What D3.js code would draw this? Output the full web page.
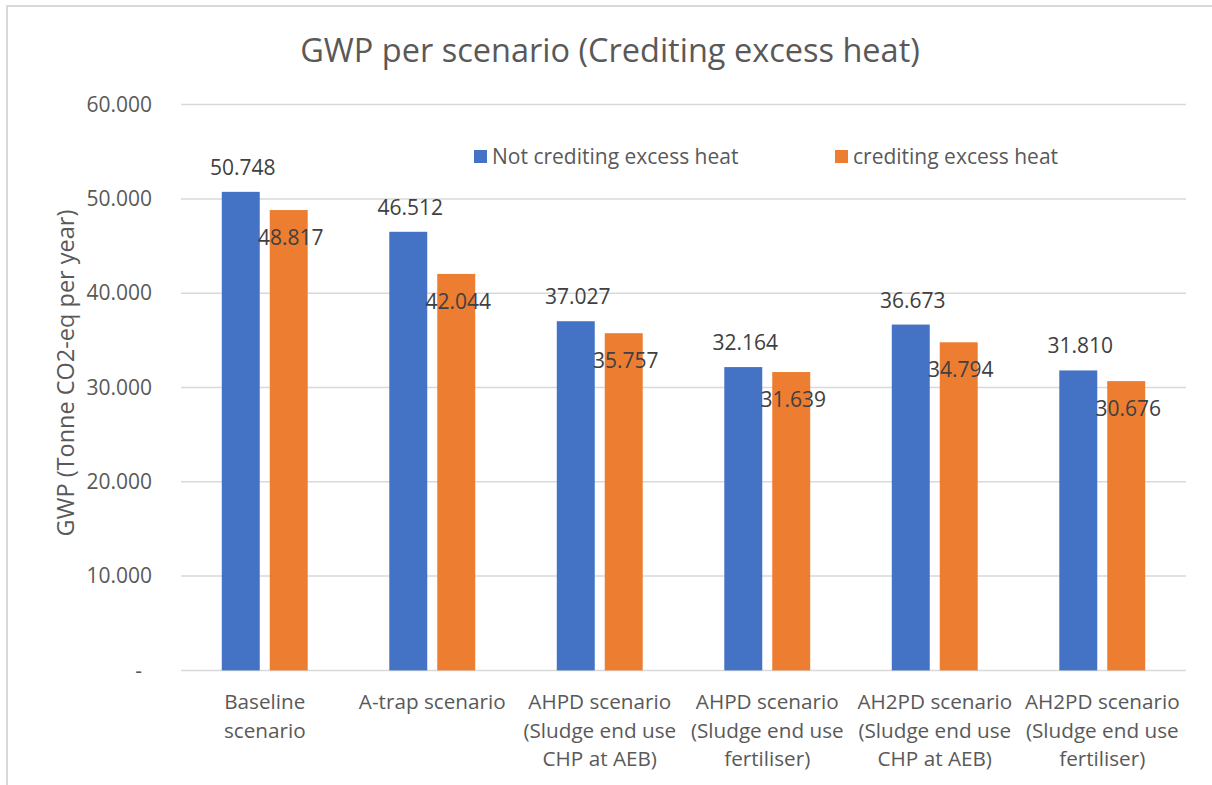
<!DOCTYPE html>
<html>
<head>
<meta charset="utf-8">
<script src="https://cdn.jsdelivr.net/npm/d3@7"></script>
<style>
  html, body { margin: 0; padding: 0; background: #fff; }
  svg { display: block; }
  text { font-family: "Open Sans", "Noto Sans", sans-serif; }
</style>
</head>
<body>
<svg id="chart" width="1212" height="785"></svg>
<script>
// Scenario categories (x axis)
const categories = [
  "Baseline scenario",
  "A-trap scenario",
  "AHPD scenario (Sludge end use CHP at AEB)",
  "AHPD scenario (Sludge end use fertiliser)",
  "AH2PD scenario (Sludge end use CHP at AEB)",
  "AH2PD scenario (Sludge end use fertiliser)"
];
// Series names
const seriesNames = ["Not crediting excess heat", "crediting excess heat"];
// GWP values, tonne CO2-eq per year
const notCrediting = [50.748, 46.512, 37.027, 32.164, 36.673, 31.810];
const crediting    = [48.817, 42.044, 35.757, 31.639, 34.794, 30.676];
// Y axis ticks and their labels
const yTicks = [0, 10, 20, 30, 40, 50, 60];
const yTickLabels = ["-", "10.000", "20.000", "30.000", "40.000", "50.000", "60.000"];

const colors = ["#4472C4", "#ED7D31"];
const seriesValues = [notCrediting, crediting];

const svg = d3.select("#chart");

// Outer chart frame (top and left edges visible)
svg.append("path")
  .attr("d", "M7,790 L7,6 L1220,6")
  .attr("fill", "none")
  .attr("stroke", "#d9d9d9")
  .attr("stroke-width", 2);

const plot = { left: 181, right: 1186, top: 104.6, bottom: 670.4 };

const y = d3.scaleLinear().domain([0, 60]).range([plot.bottom, plot.top]);
const x0 = d3.scaleBand().domain(categories)
  .range([plot.left, plot.right])
  .paddingInner(0.487).paddingOuter(0.2435);
const x1 = d3.scaleBand().domain(seriesNames)
  .range([0, x0.bandwidth()])
  .paddingInner(0.2083).paddingOuter(0);

// Title
svg.append("text")
  .attr("x", 610).attr("y", 62)
  .attr("text-anchor", "middle")
  .attr("font-size", 32.5)
  .attr("fill", "#595959")
  .text("GWP per scenario (Crediting excess heat)");

// Gridlines
svg.append("g")
  .selectAll("line")
  .data(yTicks)
  .join("line")
  .attr("x1", plot.left).attr("x2", plot.right)
  .attr("y1", d => y(d)).attr("y2", d => y(d))
  .attr("stroke", "#d9d9d9")
  .attr("stroke-width", 1.5);

// Y axis tick labels
const yAxis = d3.axisLeft(y)
  .tickValues(yTicks)
  .tickSize(0)
  .tickPadding(0)
  .tickFormat((d, i) => yTickLabels[i]);
const yG = svg.append("g")
  .attr("transform", `translate(152,0)`)
  .call(yAxis);
yG.select(".domain").remove();
yG.selectAll("text")
  .attr("font-family", "'Open Sans', sans-serif")
  .attr("font-size", 21)
  .attr("fill", "#595959")
  .attr("dx", (d, i) => yTickLabels[i] === "-" ? -10 : 0);

// Y axis title
svg.append("text")
  .attr("transform", `translate(74,${373}) rotate(-90)`)
  .attr("text-anchor", "middle")
  .attr("font-size", 23.5)
  .attr("fill", "#595959")
  .text("GWP (Tonne CO2-eq per year)");

// Bars
const groups = svg.append("g")
  .selectAll("g")
  .data(categories)
  .join("g")
  .attr("transform", d => `translate(${x0(d)},0)`);

groups.selectAll("rect")
  .data((d, ci) => seriesNames.map((s, si) => ({ s, si, v: seriesValues[si][ci] })))
  .join("rect")
  .attr("x", d => x1(d.s))
  .attr("width", x1.bandwidth())
  .attr("y", d => y(d.v))
  .attr("height", d => y(0) - y(d.v))
  .attr("fill", d => colors[d.si]);

// Value labels: first series above the bar, second series inside near the top
groups.selectAll("text.val")
  .data((d, ci) => seriesNames.map((s, si) => ({ s, si, v: seriesValues[si][ci] })))
  .join("text")
  .attr("class", "val")
  .attr("x", d => x1(d.s) + x1.bandwidth() / 2 + 2)
  .attr("y", d => d.si === 0 ? y(d.v) - 17 : y(d.v) + 35)
  .attr("text-anchor", "middle")
  .attr("font-size", 21)
  .attr("fill", "#404040")
  .text(d => d3.format(".3f")(d.v));

// Category labels, wrapped to the band width
const catG = svg.append("g");
categories.forEach(c => {
  const t = catG.append("text")
    .attr("x", x0(c) + x0.bandwidth() / 2)
    .attr("y", 709)
    .attr("text-anchor", "middle")
    .attr("font-size", 20.7)
    .attr("fill", "#595959");
  const words = c.split(" ");
  let lines = [];
  let cur = [];
  const probe = t.append("tspan");
  words.forEach(w => {
    const test = cur.concat([w]).join(" ");
    probe.text(test);
    if (probe.node().getComputedTextLength() > 165 && cur.length) {
      lines.push(cur.join(" "));
      cur = [w];
    } else {
      cur.push(w);
    }
  });
  if (cur.length) lines.push(cur.join(" "));
  probe.remove();
  lines.forEach((ln, i) => {
    t.append("tspan")
      .attr("x", x0(c) + x0.bandwidth() / 2)
      .attr("dy", i === 0 ? 0 : 28.7)
      .text(ln);
  });
});

// Legend
const legend = svg.append("g");
const legendPos = [474, 835];
seriesNames.forEach((s, i) => {
  legend.append("rect")
    .attr("x", legendPos[i]).attr("y", 150)
    .attr("width", 13).attr("height", 13)
    .attr("fill", colors[i]);
  legend.append("text")
    .attr("x", legendPos[i] + 18).attr("y", 164)
    .attr("font-size", 21)
    .attr("fill", "#595959")
    .text(s);
});
</script>
</body>
</html>
